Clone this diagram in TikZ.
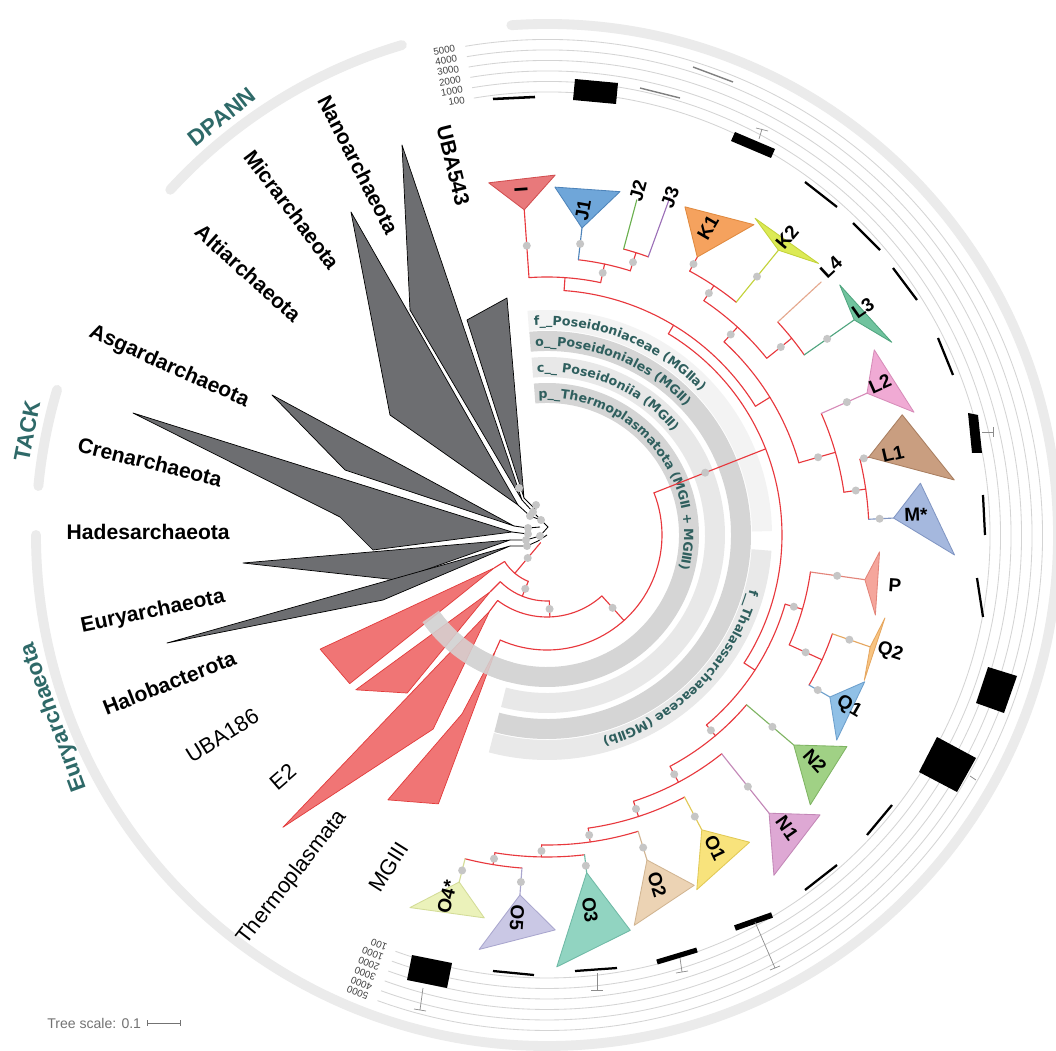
\documentclass[tikz,border=0pt]{standalone}
\usepackage{fontspec}
\setmainfont{Liberation Sans}
\newfontfamily\bandfont{DejaVu Sans}
\usetikzlibrary{decorations.text,calc}
\definecolor{gtri}{HTML}{6D6E71}
\definecolor{rtri}{HTML}{F07575}
\definecolor{rtrie}{HTML}{E23B3B}
\definecolor{redl}{HTML}{E8383D}
\definecolor{dotc}{HTML}{C6C6C6}
\definecolor{bandA}{HTML}{D5D5D5}
\definecolor{bandB}{HTML}{E8E8E8}
\definecolor{bandC}{HTML}{F3F3F3}
\definecolor{bandD}{HTML}{E9E9E9}
\definecolor{tealc}{HTML}{2F5F5E}
\definecolor{grpc}{HTML}{2E6968}
\definecolor{outc}{HTML}{EBEBEB}
\definecolor{ringc}{HTML}{D4D4D4}
\definecolor{cI}{HTML}{E8797B}\definecolor{cIe}{HTML}{D24E50}
\definecolor{cJ}{HTML}{6FA6D9}\definecolor{cJe}{HTML}{4E84BA}
\definecolor{cJb}{HTML}{6BB04F}\definecolor{cJc}{HTML}{9C70B8}
\definecolor{cK}{HTML}{F5A25E}\definecolor{cKe}{HTML}{E08A3F}
\definecolor{cKb}{HTML}{DCEA55}\definecolor{cKbe}{HTML}{C3D23A}
\definecolor{cLd}{HTML}{E5A98F}
\definecolor{cLc}{HTML}{70C39E}\definecolor{cLce}{HTML}{50A57F}
\definecolor{cLb}{HTML}{F0AAD4}\definecolor{cLbe}{HTML}{D78CB9}
\definecolor{cLa}{HTML}{C99E80}\definecolor{cLae}{HTML}{A97E60}
\definecolor{cM}{HTML}{A5B8DE}\definecolor{cMe}{HTML}{8196C3}
\definecolor{cP}{HTML}{F5A69C}\definecolor{cPe}{HTML}{E3857A}
\definecolor{cQb}{HTML}{F8C481}\definecolor{cQbe}{HTML}{E6A760}
\definecolor{cQa}{HTML}{90C0E6}\definecolor{cQae}{HTML}{6C9FCC}
\definecolor{cNb}{HTML}{A0D185}\definecolor{cNbe}{HTML}{7FB463}
\definecolor{cNa}{HTML}{DEA8D4}\definecolor{cNae}{HTML}{C387B7}
\definecolor{cOa}{HTML}{F8E37C}\definecolor{cOae}{HTML}{E1C955}
\definecolor{cOb}{HTML}{ECD3B4}\definecolor{cObe}{HTML}{D1B592}
\definecolor{cOc}{HTML}{91D4C1}\definecolor{cOce}{HTML}{6EB9A5}
\definecolor{cOe}{HTML}{CAC8E5}\definecolor{cOee}{HTML}{A9A6CE}
\definecolor{cOd}{HTML}{EBF2BA}\definecolor{cOde}{HTML}{D3DC97}
\tikzset{
 tl/.style={line width=0.8pt,line cap=round},
 band/.style={line width=14.2pt},
 outarc/.style={outc,line width=7pt,line cap=round},
 ring/.style={ringc,line width=0.6pt},
 phy/.style={font=\fontsize{15}{18}\selectfont\bfseries,inner sep=0pt,anchor=east},
 phyr/.style={font=\fontsize{15.5}{18}\selectfont,inner sep=0pt,anchor=east},
 tip/.style={font=\fontsize{13.5}{16}\selectfont\bfseries,inner sep=0pt},
 grp/.style={font=\fontsize{16}{19}\selectfont\bfseries,text=grpc,inner sep=0pt},
 rlab/.style={font=\fontsize{7}{8}\selectfont,text=black!75,inner sep=1pt},
 bar/.style={line width=1.6pt},
 whisk/.style={black!45,line width=0.5pt},
 gt/.style={fill=gtri,draw=black,line width=0.5pt,line join=round},
 rt/.style={fill=rtri,draw=rtrie,line width=0.5pt,line join=round},
 bandtxt/.style={decorate,decoration={text along path,text align=left,text={#1}}},
}
\newcommand\myR[4][redl]{\draw[tl,#1] (#2:#3) -- (#2:#4);}
\newcommand\myA[4][redl]{\draw[tl,#1] (#3:#2) arc[start angle=#3,end angle=#4,radius=#2];}
\newcommand\myD[2]{\fill[dotc] (#1:#2) circle[radius=4];}
\newcommand\myT[8]{\filldraw[fill=#7,draw=#8,line width=0.6pt,line join=round] (#1:#2) -- (#3:#4) -- (#5:#6) -- cycle;}
\newcommand\bandfmt{\bandfont\bfseries\fontsize{9}{11}\selectfont\color{tealc}}
\begin{document}
\begin{tikzpicture}[x=0.025cm,y=0.025cm]
\useasboundingbox (-547,-515) rectangle (509,535);
\fill[white] (-547,-515) rectangle (509,535);
% ---------- outer group arcs
\draw[outarc] (94:511) arc[start angle=94,end angle=-180,radius=511];
\draw[outarc] (106.5:511) arc[start angle=106.5,end angle=137.5,radius=511];
\draw[outarc] (163.5:511) arc[start angle=163.5,end angle=174.5,radius=511];
% ---------- rings of the box plot
\foreach \r/\t [count=\i] in {443/100,453.5/1000,464/2000,474.5/3000,485/4000,495.5/5000}{
  \draw[ring] (99.5:\r) arc[start angle=99.5,end angle=-110,radius=\r];
  \node[rlab,anchor=east,rotate=10] (rt\i) at (100.5:\r) {\t};
  \node[rlab,anchor=west,rotate=159] (rb\i) at (-111:\r) {\t};
}
% ---------- taxonomy bands
\draw[band,bandA] (95:142) arc[start angle=95,end angle=-145,radius=142];
\draw[band,bandB] (95:168) arc[start angle=95,end angle=-105,radius=168];
\draw[band,bandA] (95:194) arc[start angle=95,end angle=-105,radius=194];
\draw[band,bandC] (95:215) arc[start angle=95,end angle=1,radius=215];
\draw[band,bandD] (-4:215) arc[start angle=-4,end angle=-105,radius=215];
\path[bandtxt={|\bandfmt|f{\_}{\_}Poseidoniaceae (MG{Ⅱ}a)}] (93.5:210) arc[start angle=93.5,end angle=10,radius=210];
\path[bandtxt={|\bandfmt|o{\_}{\_}Poseidoniales (MG{Ⅱ})}] (93.5:189) arc[start angle=93.5,end angle=0,radius=189];
\path[bandtxt={|\bandfmt|c{\_}{\_} Poseidoniia (MG{Ⅱ})}] (93.5:163) arc[start angle=93.5,end angle=-10,radius=163];
\path[bandtxt={|\bandfmt|p{\_}{\_}Thermoplasmatota (MG{Ⅱ} + MG{Ⅲ})}] (93.5:137) arc[start angle=93.5,end angle=-60,radius=137];
\path[bandtxt={|\bandfmt|f{\_}{\_}Thalassarchaeaceae (MG{Ⅱ}b)}] (-15:210) arc[start angle=-15,end angle=-104,radius=210];
% ---------- Thermoplasmatota red part
\myA{115}{246}{381.5}
\myR{312}{82}{115}
\myA{82}{233}{312}
\myR{272}{66}{82}
\myA{66}{225}{272}
\myR{248}{50}{66}
\myA{50}{212}{248}
\myR{230}{10}{50}
\myR{212}{50}{62}
\myR{225}{66}{80}
\myR{233}{82}{95}
\myR{246}{115}{125}
\myD{312}{98}\myD{272}{74}\myD{248}{58}\myD{230}{30}
\filldraw[rt] (212:62) -- (206.7:254) -- (217:247) -- cycle;
\filldraw[rt] (225:80) -- (219:246) -- (228.5:211) -- cycle;
\filldraw[rt] (233:95) -- (227.9:394) -- (239.6:225) -- cycle;
\filldraw[rt] (246:125) -- (244.6:198) -- (239:309) -- (248:290) -- cycle;
\fill[bandA,opacity=0.85] (-105:132) arc[start angle=-105,end angle=-145,radius=132] -- (-145:152) arc[start angle=-145,end angle=-105,radius=152] -- cycle;
% ---------- MGII stem and root
\myR{21.5}{115}{235}
\myD{21.5}{170}
\myA{235}{58.9}{-33}
% MGIIa
\myR{58.9}{235}{245}
\myA{245}{86}{31.7}
\myR{86}{245}{258}
\myA{258}{94}{78}
\myR{94}{258}{326}
\myR{78}{258}{277}
\myA{277}{83.5}{72.5}
\myR[cJe]{83.5}{277}{309}
\myR{72.5}{277}{296}
\myA{296}{75}{70}
\myR[cJb]{75}{296}{347}
\myR[cJc]{70}{296}{359}
\myR{31.7}{245}{262}
\myA{262}{47.5}{16}
\myR{47.5}{262}{282}
\myA{282}{56.2}{38.8}
\myR{56.2}{282}{300}
\myA{300}{61.6}{50.9}
\myR{61.6}{300}{316}
\myR[cKbe]{50.9}{300}{367}
\myR{38.8}{282}{314}
\myA{314}{42.7}{35}
\myR[cLd]{42.7}{314}{373}
\myR[cLce]{35}{314}{375}
\myR{16}{262}{300}
\myA{300}{23.9}{8.2}
\myR[cLbe]{23.9}{300}{350}
\myR{8.2}{300}{322}
\myA{322}{13.6}{2.8}
\myR{13.6}{322}{331}
\myR[cMe]{2.8}{322}{347}
% MGIIb
\myR{-33}{235}{248}
\myA{248}{-16.2}{-50}
\myR{-16.2}{248}{266}
\myA{266}{-8}{-24.4}
\myR[cPe]{-8}{266}{321}
\myR{-24.4}{266}{302}
\myA{302}{-19.1}{-29.8}
\myR[cQbe]{-19.1}{302}{342}
\myR[cQae]{-29.8}{302}{326}
\myR{-50}{248}{262}
\myA{262}{-40.4}{-62}
\myR[cNbe]{-40.4}{262}{324}
\myR{-62}{262}{280}
\myA{280}{-51.4}{-72}
\myR[cNae]{-51.4}{280}{356}
\myR{-72}{280}{296}
\myA{296}{-62.3}{-82}
\myR[cOae]{-62.3}{296}{333}
\myR{-82}{296}{310}
\myA{310}{-72.9}{-91}
\myR[cObe]{-72.9}{310}{340}
\myR{-91}{310}{322}
\myA{322}{-83.3}{-99.3}
\myR[cOce]{-83.3}{322}{340}
\myR{-99.3}{322}{334}
\myA{334}{-94.3}{-104.2}
\myR[cOee]{-94.3}{334}{361}
\myR[cOde]{-104.2}{334}{358}
% dots
\foreach \a/\r in {94/290,83.5/293,72.5/286,78/268,61.6/308,50.9/333,56.2/291,35/342,38.8/300,47.5/272,23.9/328,13.6/326,8.2/312,2.8/333,16/282,-8/293,-19.1/320,-29.8/312,-24.4/284,-16.2/257,-40.4/296,-51.4/322,-62.3/318,-72.9/327,-83.3/333,-94.3/348,-104.2/346,-62/271,-72/288,-82/303,-91/316,-99.3/328,-50/255}{\myD{\a}{\r}}
% clade triangles
\myT{94}{326}{99.4}{357}{88.7}{360}{cI}{cIe}
\myT{83.5}{309}{88.7}{348}{78}{351}{cJ}{cJe}
\myT{61.6}{316}{67.2}{356}{56.3}{373}{cK}{cKe}
\myT{50.9}{367}{56.7}{379}{45}{384}{cKb}{cKbe}
\myT{35}{375}{40.5}{385}{29.2}{395}{cLc}{cLce}
\myT{23.9}{350}{29.5}{376}{18.5}{387}{cLb}{cLbe}
\myT{13.6}{331}{18.7}{375}{7.7}{411}{cLa}{cLae}
\myT{2.8}{347}{7.9}{377}{-2.8}{408}{cM}{cMe}
\myT{-8}{321}{-2.9}{333}{-13.7}{338}{cP}{cPe}
\myT{-19.1}{342}{-13.8}{348}{-24.6}{349}{cQb}{cQbe}
\myT{-29.8}{326}{-24.8}{350}{-35.3}{355}{cQa}{cQae}
\myT{-40.4}{324}{-35.2}{367}{-45.7}{377}{cNb}{cNbe}
\myT{-51.4}{356}{-45.7}{391}{-56.3}{409}{cNa}{cNae}
\myT{-62.3}{333}{-56.6}{368}{-67.1}{385}{cOa}{cOae}
\myT{-72.9}{340}{-67.2}{380}{-77.4}{400}{cOb}{cObe}
\myT{-83.3}{340}{-78.1}{404}{-88.7}{432}{cOc}{cOce}
\myT{-94.3}{361}{-88.8}{395}{-99.3}{420}{cOe}{cOee}
\myT{-104.2}{358}{-99.3}{388}{-110.2}{397}{cOd}{cOde}
% ---------- pixel-coordinate scope
\begin{scope}[shift={(-547,535)},yscale=-1]
 % grey collapsed clades
 \filldraw[gt] (522,500) -- (402,145) -- (410,310) -- cycle;
 \filldraw[gt] (524,498) -- (507,298) -- (467,320) -- cycle;
 \filldraw[gt] (518,505) -- (351,212) -- (390,415) -- cycle;
 \filldraw[gt] (514,526) -- (272,395) -- (345,470) -- cycle;
 \filldraw[gt] (512,532) -- (133,413) -- (340,517) -- (373,550) -- cycle;
 \filldraw[gt] (510,540) -- (243,563) -- (397,580) -- cycle;
 \filldraw[gt] (510,546) -- (167,643) -- (383,600) -- cycle;
 % black stems of the grey clades
 \draw[black,line width=0.6pt] (522,500) -- (533,512) -- (541,520)
   (524,498) -- (536,510) (518,505) -- (530,516) -- (541,520)
   (514,526) -- (528,528) -- (540,527) (512,532) -- (528,534)
   (510,540) -- (526,540) -- (540,536) (510,546) -- (527,546) -- (538,541)
   (541,520) -- (548,527) -- (540,536) (538,541) -- (547,535);
 \foreach \p in {(533,512),(530,516),(528,528),(528,534),(526,540),(527,546),(541,520),(540,536),(519,488),(536,505)}
   \fill[dotc] \p circle[radius=4];
 % box plot marks
 \draw[bar,line width=1.8pt] (493,99) -- (535,97);
 \fill (575,79) -- (618,83) -- (616,104) -- (573,100) -- cycle;
 \draw[black!50,line width=1pt] (640,88) -- (680,98);
 \draw[black!50,line width=1pt] (693,67) -- (733,82);
 \fill (735,132) -- (775,149) -- (771,158) -- (731,141) -- cycle;
 \draw[whisk] (759,139) -- (762,129) (756,128) -- (768,131);
 \draw[bar] (805,182) -- (837,207);
 \draw[bar] (853,223) -- (880,250);
 \draw[bar] (893,268) -- (917,300);
 \draw[bar] (938,338) -- (953,375);
 \fill (968,413) -- (978,415) -- (982,453) -- (972,453) -- cycle;
 \draw[whisk] (982,432) -- (993,432) (993,427) -- (993,437);
 \draw[bar] (983,495) -- (985,535);
 \draw[bar] (977,578) -- (983,617);
 \fill (988,667) -- (1017,676) -- (1004,713) -- (976,703) -- cycle;
 \fill (937,737) -- (976,758) -- (957,792) -- (919,772) -- cycle;
 \draw[whisk] (970,776) -- (976,780);
 \draw[bar] (867,835) -- (892,805);
 \draw[bar] (805,890) -- (837,865);
 \draw[line width=4pt] (735,928) -- (772,915);
 \draw[whisk] (755,922) -- (775,968) (770,970) -- (780,966);
 \draw[line width=3.6pt] (657,962) -- (697,950);
 \draw[whisk] (680,958) -- (682,972) (676,973) -- (688,971);
 \draw[bar] (575,971) -- (617,968);
 \draw[whisk] (597,973) -- (597,990) (591,990) -- (603,990);
 \draw[bar] (493,971) -- (534,975);
 \fill (412,955) -- (452,963) -- (447,988) -- (407,980) -- cycle;
 \draw[whisk] (423,988) -- (420,1010) (414,1009) -- (426,1011);
 % tip labels
 \node[tip,rotate=-86] (lI) at (521,190) {I};
 \node[tip,rotate=80] (lJ1) at (583,210) {J1};
 \node[tip,rotate=75] (lJ2) at (638,191) {J2};
 \node[tip,rotate=70] (lJ3) at (670,197) {J3};
 \node[tip,rotate=60] (lK1) at (708,228) {K1};
 \node[tip,rotate=50] (lK2) at (787,237) {K2};
 \node[tip,rotate=43] (lL4) at (831,267) {L4};
 \node[tip,rotate=35] (lL3) at (863,308) {L3};
 \node[tip,rotate=24] (lL2) at (880,384) {L2};
 \node[tip,rotate=13] (lL1) at (893,454) {L1};
 \node[tip,rotate=2] (lM) at (916,515) {M*};
 \node[tip,rotate=-4] (lP) at (895,585) {P};
 \node[tip,rotate=-18] (lQ2) at (890,652) {Q2};
 \node[tip,rotate=-30] (lQ1) at (849,707) {Q1};
 \node[tip,rotate=-48] (lN2) at (815,761) {N2};
 \node[tip,rotate=-55] (lN1) at (787,828) {N1};
 \node[tip,rotate=-64] (lO1) at (715,848) {O1};
 \node[tip,rotate=-73] (lO2) at (657,885) {O2};
 \node[tip,rotate=-83] (lO3) at (590,910) {O3};
 \node[tip,rotate=-94] (lO5) at (517,918) {O5};
 \node[tip,rotate=76] (lO4) at (447,897) {O4*};
 % phylum labels
 \node[phy,rotate=-76] (pUBA) at (463,205) {UBA543};
 \node[phy,rotate=-63] (pNano) at (393,233) {Nanoarchaeota};
 \node[phy,rotate=-53] (pMicr) at (335,267) {Micrarchaeota};
 \node[phy,rotate=-42] (pAlti) at (298,318) {Altiarchaeota};
 \node[phy,rotate=-24] (pAsg) at (248,402) {Asgardarchaeota};
 \node[phy,rotate=-14] (pCren) at (222,480) {Crenarchaeota};
 \node[phy,rotate=0] (pHad) at (230,532) {Hadesarchaeota};
 \node[phy,rotate=11.7] (pEur) at (225,597) {Euryarchaeota};
 \node[phy,rotate=21.5] (pHal) at (235,657) {Halobacterota};
 \node[phyr,rotate=32] (pUBB) at (257,714) {UBA186};
 \node[phyr,rotate=41] (pE2) at (293,768) {E2};
 \node[phyr,rotate=52] (pThe) at (343,813) {Thermoplasmata};
 \node[phyr,rotate=58] (pMG3) at (403,844) {MGIII};
 % group labels
 \node[grp,rotate=38] (gD) at (222,117) {DPANN};
 \node[grp,rotate=79] (gT) at (27,431) {TACK};
 \node[grp,rotate=110] (gE) at (54,717) {Euryarchaeota};
 % tree scale
 \node[font=\fontsize{10}{12}\selectfont,text=black!55,anchor=west,inner sep=0pt] (ts) at (47,1023) {Tree scale: 0.1};
 \coordinate (sa) at (147,1023);
 \coordinate (sb) at (180,1023);
 \draw[black!55,line width=0.5pt] (sa) -- (sb) ($(sa)+(0,-3)$) -- ($(sa)+(0,3)$) ($(sb)+(0,-3)$) -- ($(sb)+(0,3)$);
\end{scope}
\end{tikzpicture}
\end{document}
